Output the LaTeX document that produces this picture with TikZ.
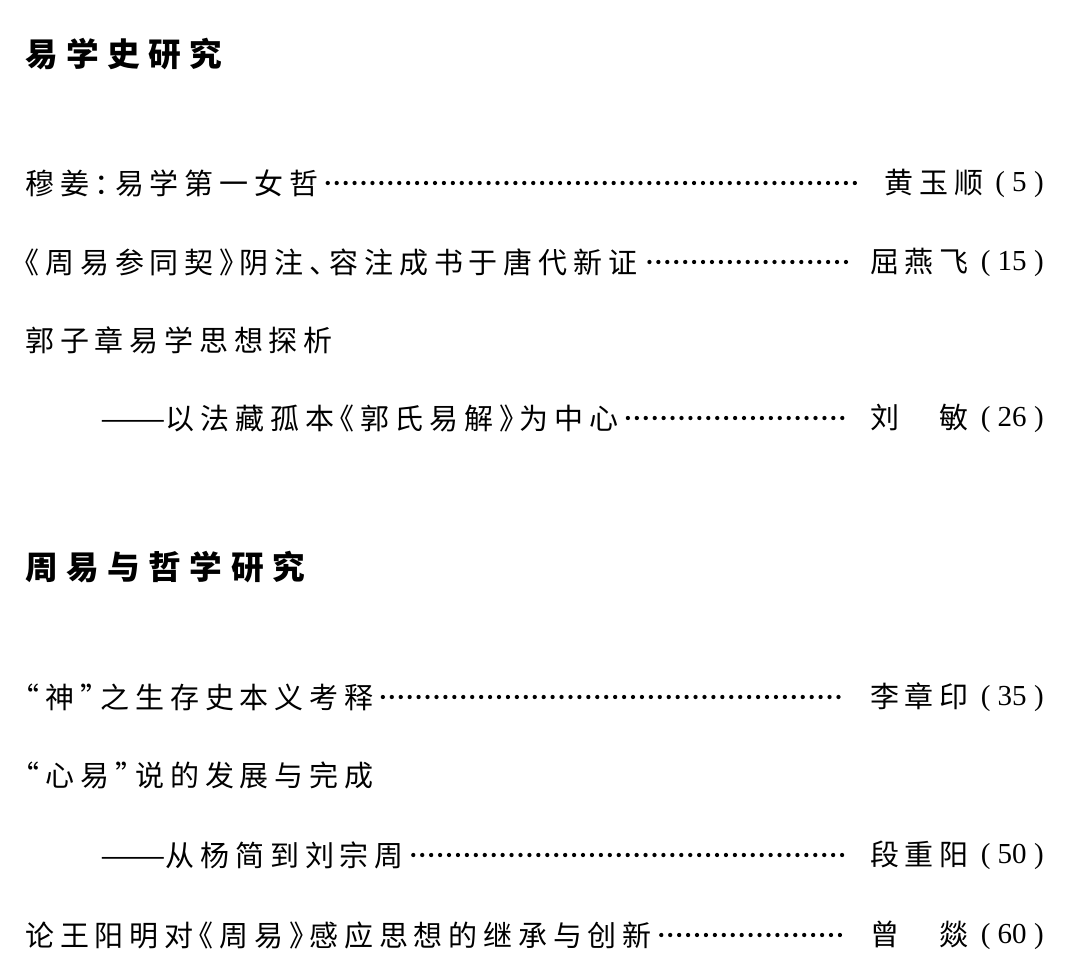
\documentclass[tikz,border=0pt]{standalone}
\usepackage{graphicx}
\usepackage{fontspec}
\usetikzlibrary{decorations.markings}
\setmainfont{Liberation Serif}
\newfontfamily\cjkbody[LetterSpace=20,RawFeature={+halt}]{Noto Sans CJK SC}
\newfontfamily\cjkfull{Noto Sans CJK SC}
\newfontfamily\cjkhead[LetterSpace=26]{Noto Sans CJK SC}
\newfontfamily\numfont{Liberation Serif}
\tikzset{
  entry/.style={anchor=west, inner sep=0pt, font=\fontsize{21.75}{26}\selectfont\cjkbody},
  auth/.style={anchor=east, inner sep=0pt, font=\fontsize{21.75}{26}\selectfont\cjkbody},
  head/.style={anchor=west, inner sep=0pt, font=\fontsize{24.5}{29}\selectfont\cjkhead\bfseries},
  leader/.style={decoration={markings, mark=between positions 0 and 1 step 6.7pt with {\fill[black] (0,0) circle (1.6pt);}}, decorate}
}
\newcommand{\pg}[1]{\hspace{9pt}\raisebox{1.6pt}{\numfont (\hspace{5.5pt}#1\hspace{5.5pt})}}
\newcommand{\longdash}{\scalebox{1.35}[1]{\cjkfull ——}}
\begin{document}
\begin{tikzpicture}[x=0.75pt,y=-0.75pt]
\useasboundingbox (0,0) rectangle (1080,980);
\fill[white] (0,0) rectangle (1080,980);

\node[head] (h1) at (25,54) {易学史研究};

\node[entry] (t1) at (25,183) {穆姜：易学第一女哲};
\node[auth] (a1) at (1044,183) {黄玉顺\pg{5}};
\path[leader] ([xshift=7pt]t1.east) -- ([xshift=-17pt]a1.west);

\node[entry] (t2) at (25,262) {《周易参同契》阴注、容注成书于唐代新证};
\node[auth] (a2) at (1044,262) {屈燕飞\pg{15}};
\path[leader] ([xshift=9pt]t2.east) -- ([xshift=-17pt]a2.west);

\node[entry] (t3) at (25,340) {郭子章易学思想探析};

\node[entry] (t4) at (100,418) {\longdash 以法藏孤本《郭氏易解》为中心};
\node[auth] (a4) at (1044,418) {刘　敏\pg{26}};
\path[leader] ([xshift=7pt]t4.east) -- ([xshift=-17pt]a4.west);

\node[head] (h2) at (25,567) {周易与哲学研究};

\node[entry] (t5) at (25,697) {“神”之生存史本义考释};
\node[auth] (a5) at (1044,697) {李章印\pg{35}};
\path[leader] ([xshift=7pt]t5.east) -- ([xshift=-17pt]a5.west);

\node[entry] (t6) at (25,775) {“心易”说的发展与完成};

\node[entry] (t7) at (100,855) {\longdash 从杨简到刘宗周};
\node[auth] (a7) at (1044,855) {段重阳\pg{50}};
\path[leader] ([xshift=7pt]t7.east) -- ([xshift=-17pt]a7.west);

\node[entry] (t8) at (25,935) {论王阳明对《周易》感应思想的继承与创新};
\node[auth] (a8) at (1044,935) {曾　燚\pg{60}};
\path[leader] ([xshift=7pt]t8.east) -- ([xshift=-17pt]a8.west);
\end{tikzpicture}
\end{document}
